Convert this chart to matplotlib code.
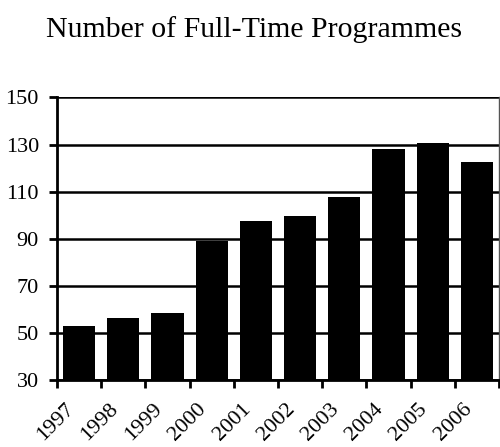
import matplotlib
matplotlib.use("Agg")
import matplotlib.pyplot as plt
import matplotlib.transforms as mtransforms
import numpy as np

years = ["1997", "1998", "1999", "2000", "2001", "2002", "2003", "2004", "2005", "2006"]
programmes = [53, 56.5, 58.5, 89, 97.5, 99.5, 107.5, 128, 130.5, 122.5]
y_ticks = [30, 50, 70, 90, 110, 130, 150]

plt.rcParams["font.family"] = ["Liberation Serif", "DejaVu Serif"]

fig = plt.figure(figsize=(5, 4.47), dpi=100)
ax = fig.add_axes([0.114, 0.150, 0.884, 0.632])

x = np.arange(len(years))
ax.bar(x, programmes, width=0.73, color="black", zorder=3, bottom=0)

ax.set_ylim(30, 150)
ax.set_xlim(-0.5, len(years) - 0.5)
ax.set_yticks(y_ticks)
ax.set_yticklabels([str(v) for v in y_ticks], fontsize=16)
ax.yaxis.grid(True, color="black", linewidth=1.8, zorder=1)
ax.set_axisbelow(True)

# ticks at the category boundaries, labels at the centres
ax.set_xticks(np.arange(len(years) + 1) - 0.5)
ax.set_xticklabels([])
ax.set_xticks(x, minor=True)
ax.set_xticklabels(years, minor=True, fontsize=16, rotation=45,
                   ha="right", va="center", rotation_mode="anchor")
ax.tick_params(axis="x", which="minor", length=0, pad=19)
ax.tick_params(axis="x", which="major", length=6, width=2, direction="out")
ax.tick_params(axis="y", length=6, width=2, direction="out", pad=7)
offset = mtransforms.ScaledTranslation(-8 / 100, 0, fig.dpi_scale_trans)
for lab in ax.get_xticklabels(minor=True):
    lab.set_transform(lab.get_transform() + offset)

ax.spines["left"].set_linewidth(2)
ax.spines["bottom"].set_linewidth(2)
ax.spines["top"].set_visible(False)
ax.spines["right"].set_linewidth(1)
ax.spines["right"].set_color("#555555")

fig.text(0.508, 0.935, "Number of Full-Time Programmes", ha="center", va="center",
         fontsize=21.5)

fig.savefig("out.png", dpi=100)
